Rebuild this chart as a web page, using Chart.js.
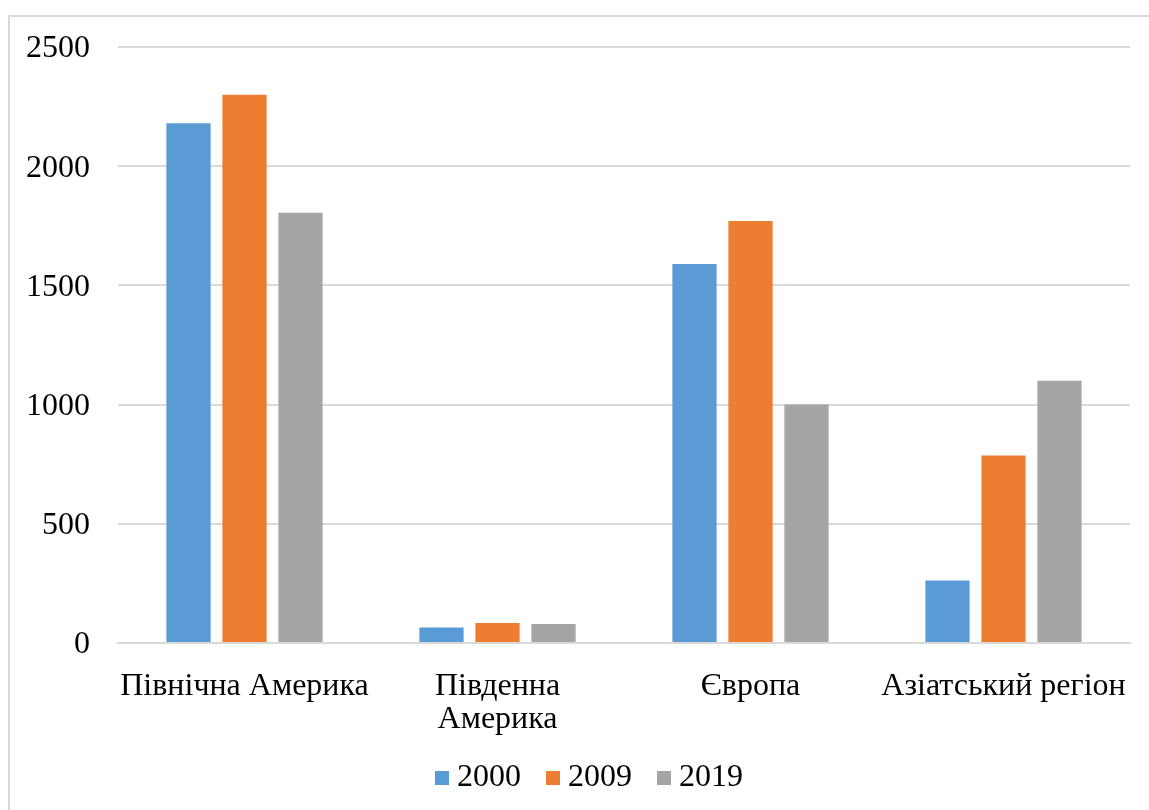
<!DOCTYPE html>
<html>
<head>
<meta charset="utf-8">
<script src="https://cdn.jsdelivr.net/npm/chart.js@4.4.1/dist/chart.umd.min.js"></script>
<style>
  html, body { margin: 0; padding: 0; background: #fff; }
  #wrap { position: relative; width: 1149px; height: 810px; overflow: hidden; }
  #frame { position: absolute; left: 8px; top: 15px; width: 1200px; height: 900px; border: 2px solid #d9d9d9; box-sizing: border-box; }
  #chart { position: absolute; left: 0; top: 0; }
</style>
</head>
<body>
<div id="wrap">
  <div id="frame"></div>
  <canvas id="chart" width="1149" height="810"></canvas>
</div>
<script>
const categories = ['Північна Америка', ['Південна', 'Америка'], 'Європа', 'Азіатський регіон'];
const years = ['2000', '2009', '2019'];
const values2000 = [2180, 65, 1590, 262];
const values2009 = [2300, 84, 1770, 786];
const values2019 = [1805, 80, 1000, 1100];
const colors = ['#5b9bd5', '#ed7d31', '#a5a5a5'];
const yTicks = [0, 500, 1000, 1500, 2000, 2500];

const font = { family: "'Liberation Serif', 'Times New Roman', serif", size: 32, lineHeight: 1.03 };

const series = [values2000, values2009, values2019];

// legend squares sit close to their text, like in Excel
function legendIcon(color) {
    const c = document.createElement('canvas');
    c.width = 30;
    c.height = 14;
    const ctx = c.getContext('2d');
    ctx.fillStyle = color;
    ctx.fillRect(16, 0, 14, 14);
    return c;
}
const icons = colors.map(legendIcon);

// nudge the legend to the right
const legendShift = {
    id: 'legendShift',
    afterLayout(chart) {
        chart.legend.left += 20;
        chart.legend.right += 20;
    }
};

new Chart(document.getElementById('chart'), {
    type: 'bar',
    data: {
        labels: categories,
        datasets: series.map((vals, i) => ({
            label: years[i],
            data: vals,
            backgroundColor: colors[i],
            borderWidth: 0,
            categoryPercentage: 0.664,
            barPercentage: 0.79
        }))
    },
    options: {
        responsive: false,
        animation: false,
        layout: { padding: { top: 47, right: 19, left: 0, bottom: 6 } },
        plugins: {
            tooltip: { enabled: false },
            legend: {
                position: 'bottom',
                labels: {
                    color: '#000',
                    font: font,
                    usePointStyle: true,
                    pointStyleWidth: 14,
                    boxWidth: 14,
                    boxHeight: 14,
                    padding: 17,
                    generateLabels: chart => Chart.defaults.plugins.legend.labels.generateLabels(chart)
                        .map((item, i) => Object.assign(item, { pointStyle: icons[i] }))
                }
            }
        },
        scales: {
            x: {
                afterFit: scale => {
                    scale.height = 102;
                    scale.paddingLeft = 0;
                    scale.paddingRight = 0;
                },
                grid: { display: false, drawTicks: false },
                border: { color: '#d9d9d9', width: 2 },
                ticks: { color: '#000', font: font, padding: 27, maxRotation: 0, autoSkip: false }
            },
            y: {
                min: 0,
                max: 2500,
                afterBuildTicks: scale => { scale.ticks = yTicks.map(v => ({ value: v })); },
                afterFit: scale => {
                    scale.width = 118;
                    scale.paddingTop = 0;
                    scale.paddingBottom = 0;
                },
                grid: { color: '#d9d9d9', lineWidth: 2, drawTicks: false },
                border: { display: false },
                ticks: { color: '#000', font: font, padding: 28, labelOffset: 2, callback: v => String(v) }
            }
        }
    },
    plugins: [legendShift]
});
</script>
</body>
</html>
